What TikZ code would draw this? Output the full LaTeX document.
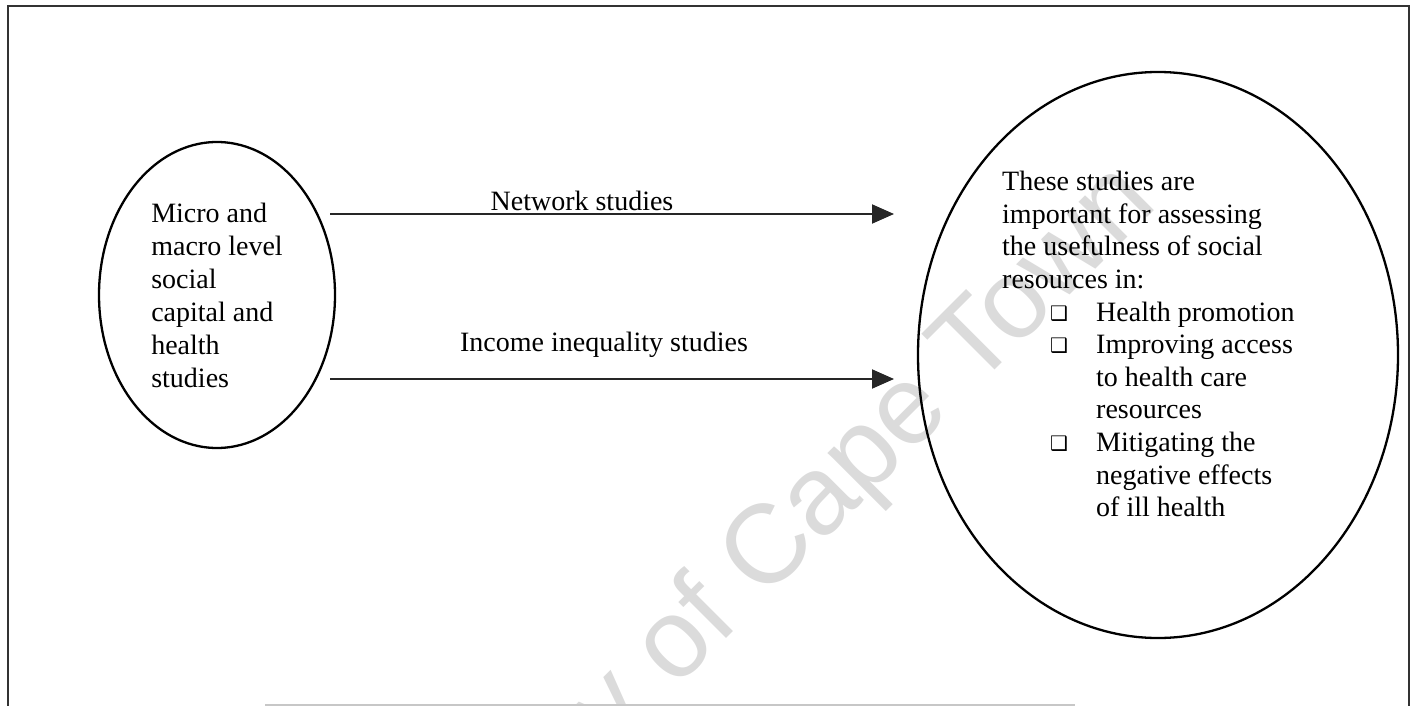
\documentclass[tikz,border=0pt]{standalone}
\usepackage{fontspec}
\setmainfont{Liberation Serif}
\newfontfamily\wmfont{Liberation Sans}
\newfontfamily\symfont{DejaVu Sans}
\usetikzlibrary{shapes.geometric,arrows.meta}
\newcommand\sqbul{{\symfont\fontsize{20}{20}\selectfont ❑}}
\newcommand\bitem[1]{\makebox[94pt][l]{\hspace*{48pt}\raisebox{1pt}{\sqbul}}#1}
\newcommand\bcont[1]{\hspace*{94pt}#1}
\tikzset{
  frameline/.style={line width=2pt, draw=black!80},
  oval/.style={ellipse, draw=black, line width=2.3pt, inner sep=0pt},
  body/.style={font=\fontsize{28}{32.6}\selectfont, align=left, inner sep=0pt, text=black},
  leftbody/.style={font=\fontsize{28}{33}\selectfont, align=left, text=black},
  flow/.style={line width=2pt, draw=black!85, -{Triangle[length=22pt,width=19pt]}},
  lbl/.style={font=\fontsize{28}{32.6}\selectfont, inner sep=0pt, anchor=base},
  wm/.style={font=\wmfont\fontsize{112}{112}\selectfont, text=black!14, rotate=45, inner sep=0pt}
}
\begin{document}
\begin{tikzpicture}[x=1pt,y=-1pt]
\useasboundingbox (0,0) rectangle (1421,706);
\begin{scope}
\clip (0,0) rectangle (1421,706);
\node[wm] (watermark) at (712,612) {University of Cape Town};
\end{scope}
% frame
\coordinate (fbl) at (8,706);
\coordinate (ftl) at (8,6);
\coordinate (ftr) at (1409,6);
\coordinate (fbr) at (1409,706);
\draw[frameline] (fbl) -- (ftl) -- (ftr) -- (fbr);
\coordinate (cutl) at (265,705);
\coordinate (cutr) at (1075,705);
\draw[line width=2pt, draw=black!22] (cutl) -- (cutr);
% left ellipse
\node[oval, minimum width=236pt, minimum height=306pt, leftbody, inner sep=0pt] (left) at (217,295)
  {Micro and\\macro level\\social\\capital and\\health\\studies};
% right ellipse
\node[oval, minimum width=480pt, minimum height=566pt] (right) at (1158,355) {};
\node[body, anchor=north west] (rtext) at (1002,171)
  {These studies are\\
   important for assessing\\
   the usefulness of social\\
   resources in:\\
   \bitem{Health promotion}\\
   \bitem{Improving access}\\
   \bcont{to health care}\\
   \bcont{resources}\\
   \bitem{Mitigating the}\\
   \bcont{negative effects}\\
   \bcont{of ill health}};
% arrows
\coordinate (a1s) at (330,214);
\coordinate (a1e) at (894,214);
\coordinate (a2s) at (330,379);
\coordinate (a2e) at (894,379);
\draw[flow] (a1s) -- (a1e);
\draw[flow] (a2s) -- (a2e);
\node[lbl] (net) at (582,210) {Network studies};
\node[lbl] (inc) at (604,351) {Income inequality studies};
\end{tikzpicture}
\end{document}
